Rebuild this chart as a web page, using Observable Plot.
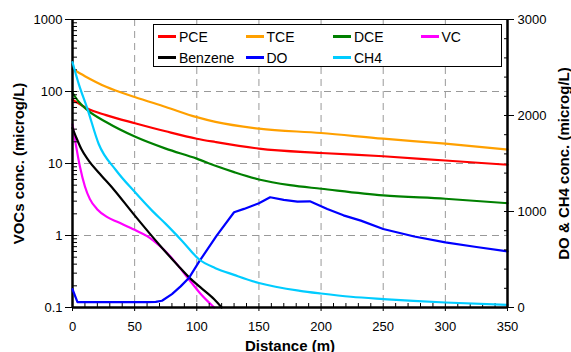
<!DOCTYPE html>
<html><head><meta charset="utf-8">
<script src="https://cdn.jsdelivr.net/npm/d3@7"></script>
<script src="https://cdn.jsdelivr.net/npm/@observablehq/plot@0.6"></script>
<style>
body{margin:0;background:#fff;}
#wrap{position:relative;width:571px;height:352px;font-family:"Liberation Sans",Arial,sans-serif;}
#wrap svg{position:absolute;left:0;top:0;overflow:visible;}
#legend{position:absolute;left:153px;top:24px;width:349px;height:43px;box-sizing:border-box;border:1.5px solid #000;background:#fff;
  display:grid;grid-template-columns:repeat(4,87.5px);grid-template-rows:21px 21px;padding:1px 0 0 4px;font-size:14px;}
.item{display:flex;align-items:center;white-space:nowrap;}
.sw{display:inline-block;width:18px;height:2.5px;margin-right:3px;}
</style></head>
<body><div id="wrap"></div>
<script>
// ---- data (distance m, concentration) ----
const pce = [[0,77],[12,58],[27,47],[51,36],[75,28],[100,22.1],[115,19.9],[150,16.1],[200,14.0],[250,12.6],[300,11.0],[350,9.6]];
const tce = [[0,205],[10,163],[27,116],[50,84],[75,61],[100,44],[115,37.8],[150,30.5],[200,26.5],[250,22.1],[300,18.9],[350,15.6]];
const dce = [[0,96],[5,72],[12,55],[27,37.7],[51,23.3],[75,16.1],[100,11.7],[115,9.3],[130,7.6],[150,6.0],[175,5.0],[200,4.46],[250,3.6],[300,3.24],[350,2.81]];
const vc = [[0,35],[3,17],[6,9],[10,4.8],[14,3.2],[20,2.3],[28,1.8],[36,1.55],[50,1.2],[60,0.98],[70,0.72],[75,0.6],[83,0.42],[95,0.23],[103,0.155],[114,0.1]];
const benzene = [[0,31],[3,23],[7,16],[13,11],[21,7.5],[33,4.4],[49,2.0],[70,0.74],[85,0.38],[94,0.26],[103,0.19],[114,0.13],[120,0.1]];
const dO = [[0,190],[4,55],[20,55],[40,55],[60,55],[67,58],[72,70],[80,140],[87,220],[94,313],[102,480],[116,748],[130,992],[138,1027],[150,1086],[159,1148],[170,1121],[181,1103],[191,1106],[205,1027],[218,960],[232,905],[250,818],[275,740],[300,678],[325,630],[350,585]];
const ch4 = [[0,2555],[5,2330],[12,2070],[21,1706],[35,1430],[50,1205],[64,1009],[75,871],[88,696],[102,500],[115,410],[130,340],[150,255],[183,174],[200,146],[224,112],[250,88],[300,52],[350,28]];

const seriesNames = ["PCE","TCE","DCE","VC","Benzene","DO","CH4"];
const seriesColors = ["#ff0000","#ffa000","#008000","#ff00ff","#000000","#0000ff","#00ccff"];
const xTicks = [0,50,100,150,200,250,300,350];
const xGrid = [50,100,150,200,250,300];
const xMinor = d3.range(0,351,10);
const yTicks = [0.1,1,10,100,1000];
const yGrid = [1,10,100];
const yMinor = [1,2,3,4,5,6,7,8,9].flatMap(m => [0.1,1,10,100].map(p => +(m*p).toPrecision(3))).concat([1000]);
const rTicks = [0,1000,2000,3000];
const rMinor = d3.range(0,3001,200);

const W = 571, H = 352;
const margins = {marginTop:19, marginRight:64, marginBottom:45, marginLeft:72};
const font = {fontFamily:'"Liberation Sans",Arial,sans-serif', fontSize:"13px", color:"#000", background:"transparent", overflow:"visible"};
const lineOpts = (c) => ({x: d => d[0], y: d => d[1], stroke: c, strokeWidth: 2.2, curve: "monotone-x"});
const gridStyle = {stroke:"#999", strokeOpacity:1, strokeDasharray:"7,5", strokeWidth:1};

const plot1 = Plot.plot({
  width: W, height: H, ...margins,
  style: font,
  x: {domain:[0,350]},
  y: {type:"log", domain:[0.1,1000]},
  marks: [
    Plot.gridX(xGrid, gridStyle),
    Plot.gridY(yGrid, gridStyle),
    Plot.ruleY([1000], {stroke:"#000", strokeWidth:1}),
    Plot.line(pce, lineOpts(seriesColors[0])),
    Plot.line(tce, lineOpts(seriesColors[1])),
    Plot.line(dce, lineOpts(seriesColors[2])),
    Plot.line(vc, lineOpts(seriesColors[3])),
    Plot.line(benzene, lineOpts(seriesColors[4])),
    Plot.axisX(xTicks, {tickSize:4, tickPadding:10, tickFormat: d => String(d), label:"Distance (m)", labelAnchor:"center", labelArrow:"none", labelOffset:43}),
    Plot.axisX(xMinor, {tickSize:4, dy:-4, tickFormat: () => "", label:null}),
    Plot.axisY(yTicks, {tickSize:7, tickPadding:3, tickFormat: d => String(d), label:"VOCs conc. (microg/L)", labelAnchor:"center", labelArrow:"none", labelOffset:59}),
    Plot.axisY(yMinor, {tickSize:5, dx:5, tickFormat: () => "", label:null}),
    Plot.ruleY([0.1], {stroke:"#000", strokeWidth:2.5}),
    Plot.ruleX([0], {stroke:"#000", strokeWidth:2.5})
  ]
});

const plot2 = Plot.plot({
  width: W, height: H, ...margins,
  style: font,
  x: {domain:[0,350], axis:null},
  y: {domain:[0,3000]},
  marks: [
    Plot.line(dO, {...lineOpts(seriesColors[5]), curve:"linear"}),
    Plot.line(ch4, lineOpts(seriesColors[6])),
    Plot.axisY(rTicks, {anchor:"right", tickSize:6, tickPadding:4, tickFormat: d => String(d), label:"DO & CH4 conc. (microg/L)", labelAnchor:"center", labelArrow:"none", labelOffset:61}),
    Plot.axisY(rMinor, {anchor:"right", tickSize:4, dx:-4, tickFormat: () => "", label:null}),
    Plot.ruleX([350], {stroke:"#000", strokeWidth:2.5})
  ]
});

const wrap = document.getElementById("wrap");
wrap.appendChild(plot1);
wrap.appendChild(plot2);
for (const svg of [plot1, plot2]) {
  d3.select(svg).selectAll('[aria-label$="axis label"]').attr("font-weight","bold").attr("font-size","15px");
}

// legend
const legend = document.createElement("div");
legend.id = "legend";
seriesNames.forEach((n,i) => {
  const it = document.createElement("div");
  it.className = "item";
  it.innerHTML = `<span class="sw" style="background:${seriesColors[i]}"></span>${n}`;
  legend.appendChild(it);
});
wrap.appendChild(legend);
</script>
</body></html>
